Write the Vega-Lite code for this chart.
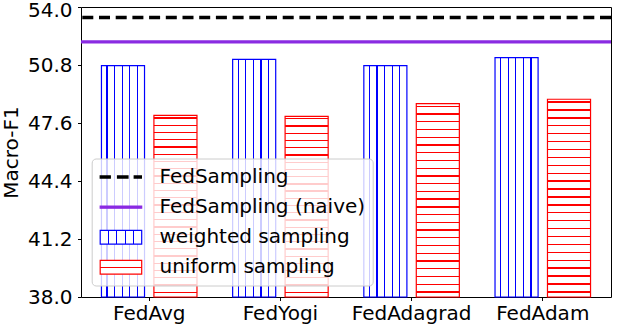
{
  "$schema": "https://vega.github.io/schema/vega-lite/v6.json",
  "width": 530,
  "height": 290,
  "autosize": "none",
  "padding": {"left": 81, "top": 7, "right": 15, "bottom": 31},
  "background": "white",
  "datasets": {
    "bars": [
      {"method": "FedAvg", "series": "weighted sampling", "value": 50.77},
      {"method": "FedAvg", "series": "uniform sampling", "value": 48.02},
      {"method": "FedYogi", "series": "weighted sampling", "value": 51.11},
      {"method": "FedYogi", "series": "uniform sampling", "value": 47.97},
      {"method": "FedAdagrad", "series": "weighted sampling", "value": 50.77},
      {"method": "FedAdagrad", "series": "uniform sampling", "value": 48.67},
      {"method": "FedAdam", "series": "weighted sampling", "value": 51.21},
      {"method": "FedAdam", "series": "uniform sampling", "value": 48.91}
    ],
    "lines": [
      {"series": "FedSampling", "value": 53.42},
      {"series": "FedSampling (naive)", "value": 52.08}
    ]
  },
  "encoding": {
    "y": {
      "field": "value",
      "type": "quantitative",
      "scale": {"domain": [38, 54], "zero": false, "nice": false},
      "axis": {
        "title": "Macro-F1",
        "values": [38, 41.2, 44.4, 47.6, 50.8, 54],
        "format": ".1f",
        "grid": false,
        "labelPadding": 5.5,
        "titlePadding": 6,
        "labelOffset": {"condition": {"test": "datum.value === 54", "value": 3.2}, "value": 0}
      }
    },
    "stroke": {
      "field": "series",
      "type": "nominal",
      "scale": {
        "domain": ["FedSampling", "FedSampling (naive)", "weighted sampling", "uniform sampling"],
        "range": ["#000000", "#8a2be2", "#0000ff", "#ff0000"]
      },
      "legend": {
        "title": null,
        "orient": "none",
        "legendX": 10.7,
        "legendY": 151.5,
        "padding": 7.5,
        "rowPadding": 9.1,
        "fillColor": "rgba(255,255,255,0.8)",
        "strokeColor": "#cccccc",
        "cornerRadius": 4,
        "labelFont": "DejaVu Sans",
        "labelFontSize": 20,
        "labelColor": "#000000",
        "labelLimit": 400,
        "labelOffset": 38.3,
        "symbolSize": 400,
        "symbolStrokeWidth": 1.2,
        "encode": {
          "symbols": {
            "update": {
              "shape": [
                {"test": "datum.value === 'FedSampling'", "value": "M-1,-0.105L0.01,-0.105L0.01,0.105L-1,0.105Z M0.73,-0.105L1.78,-0.105L1.78,0.105L0.73,0.105Z M2.4,-0.105L3.12,-0.105L3.12,0.105L2.4,0.105Z"},
                {"test": "datum.value === 'FedSampling (naive)'", "value": "M-1,-0.105L3.15,-0.105L3.15,0.105L-1,0.105Z"},
                {"value": "M-1,-0.69L3.15,-0.69L3.15,0.69L-1,0.69Z"}
              ],
              "fill": [
                {"test": "datum.value === 'FedSampling'", "value": "#000000"},
                {"test": "datum.value === 'FedSampling (naive)'", "value": "#8a2be2"},
                {"test": "datum.value === 'weighted sampling'", "value": {"gradient": "linear", "x1": 0, "y1": 0, "x2": 1, "y2": 0, "stops": [
                  {"offset": 0, "color": "#ffffff"},
                  {"offset": 0.186, "color": "#ffffff"}, {"offset": 0.186, "color": "#0000ff"}, {"offset": 0.214, "color": "#0000ff"}, {"offset": 0.214, "color": "#ffffff"},
                  {"offset": 0.386, "color": "#ffffff"}, {"offset": 0.386, "color": "#0000ff"}, {"offset": 0.414, "color": "#0000ff"}, {"offset": 0.414, "color": "#ffffff"},
                  {"offset": 0.586, "color": "#ffffff"}, {"offset": 0.586, "color": "#0000ff"}, {"offset": 0.614, "color": "#0000ff"}, {"offset": 0.614, "color": "#ffffff"},
                  {"offset": 0.786, "color": "#ffffff"}, {"offset": 0.786, "color": "#0000ff"}, {"offset": 0.814, "color": "#0000ff"}, {"offset": 0.814, "color": "#ffffff"},
                  {"offset": 1, "color": "#ffffff"}
                ]}},
                {"value": {"gradient": "linear", "x1": 0, "y1": 0, "x2": 0, "y2": 1, "stops": [
                  {"offset": 0, "color": "#ffffff"},
                  {"offset": 0.455, "color": "#ffffff"}, {"offset": 0.455, "color": "#ff0000"}, {"offset": 0.545, "color": "#ff0000"}, {"offset": 0.545, "color": "#ffffff"},
                  {"offset": 1, "color": "#ffffff"}
                ]}}
              ],
              "opacity": {"value": 1}
            }
          }
        }
      }
    }
  },
  "layer": [
    {
      "data": {"name": "bars"},
      "transform": [{"filter": "datum.series === 'weighted sampling'"}],
      "mark": {
        "type": "bar",
        "strokeWidth": 1.2,
        "fill": {"gradient": "linear", "x1": 0, "y1": 0, "x2": 1, "y2": 0, "stops": [
          {"offset": 0, "color": "#ffffff"},
          {"offset": 0.115, "color": "#ffffff"}, {"offset": 0.115, "color": "#0000ff"}, {"offset": 0.141, "color": "#0000ff"}, {"offset": 0.141, "color": "#ffffff"},
          {"offset": 0.292, "color": "#ffffff"}, {"offset": 0.292, "color": "#0000ff"}, {"offset": 0.318, "color": "#0000ff"}, {"offset": 0.318, "color": "#ffffff"},
          {"offset": 0.468, "color": "#ffffff"}, {"offset": 0.468, "color": "#0000ff"}, {"offset": 0.494, "color": "#0000ff"}, {"offset": 0.494, "color": "#ffffff"},
          {"offset": 0.645, "color": "#ffffff"}, {"offset": 0.645, "color": "#0000ff"}, {"offset": 0.671, "color": "#0000ff"}, {"offset": 0.671, "color": "#ffffff"},
          {"offset": 0.822, "color": "#ffffff"}, {"offset": 0.822, "color": "#0000ff"}, {"offset": 0.848, "color": "#0000ff"}, {"offset": 0.848, "color": "#ffffff"},
          {"offset": 1, "color": "#ffffff"}
        ]}
      },
      "encoding": {
        "x": {
          "field": "method",
          "type": "nominal",
          "scale": {"domain": ["FedAvg", "FedYogi", "FedAdagrad", "FedAdam"], "paddingInner": 0, "paddingOuter": 0.02},
          "axis": {"title": null, "labelAngle": 0, "bandPosition": 0.5, "labelPadding": 2.5}
        },
        "xOffset": {
          "field": "series",
          "type": "nominal",
          "scale": {"domain": ["weighted sampling", "uniform sampling"], "paddingInner": 0.179, "paddingOuter": 0.34}
        },
        "y2": {"datum": 38}
      }
    },
    {
      "data": {"name": "bars"},
      "transform": [{"filter": "datum.series === 'uniform sampling'"}],
      "mark": {
        "type": "bar",
        "strokeWidth": 1.2,
        "fill": {"gradient": "linear", "x1": 0, "y1": 0, "x2": 0, "y2": 1, "stops": [
          {"offset": 0, "color": "#ffffff"},
          {"offset": 0.0105, "color": "#ffffff"}, {"offset": 0.0105, "color": "#ff0000"}, {"offset": 0.0175, "color": "#ff0000"}, {"offset": 0.0175, "color": "#ffffff"},
          {"offset": 0.0505, "color": "#ffffff"}, {"offset": 0.0505, "color": "#ff0000"}, {"offset": 0.0575, "color": "#ff0000"}, {"offset": 0.0575, "color": "#ffffff"},
          {"offset": 0.0905, "color": "#ffffff"}, {"offset": 0.0905, "color": "#ff0000"}, {"offset": 0.0975, "color": "#ff0000"}, {"offset": 0.0975, "color": "#ffffff"},
          {"offset": 0.1305, "color": "#ffffff"}, {"offset": 0.1305, "color": "#ff0000"}, {"offset": 0.1375, "color": "#ff0000"}, {"offset": 0.1375, "color": "#ffffff"},
          {"offset": 0.1705, "color": "#ffffff"}, {"offset": 0.1705, "color": "#ff0000"}, {"offset": 0.1775, "color": "#ff0000"}, {"offset": 0.1775, "color": "#ffffff"},
          {"offset": 0.2105, "color": "#ffffff"}, {"offset": 0.2105, "color": "#ff0000"}, {"offset": 0.2175, "color": "#ff0000"}, {"offset": 0.2175, "color": "#ffffff"},
          {"offset": 0.2505, "color": "#ffffff"}, {"offset": 0.2505, "color": "#ff0000"}, {"offset": 0.2575, "color": "#ff0000"}, {"offset": 0.2575, "color": "#ffffff"},
          {"offset": 0.2905, "color": "#ffffff"}, {"offset": 0.2905, "color": "#ff0000"}, {"offset": 0.2975, "color": "#ff0000"}, {"offset": 0.2975, "color": "#ffffff"},
          {"offset": 0.3305, "color": "#ffffff"}, {"offset": 0.3305, "color": "#ff0000"}, {"offset": 0.3375, "color": "#ff0000"}, {"offset": 0.3375, "color": "#ffffff"},
          {"offset": 0.3705, "color": "#ffffff"}, {"offset": 0.3705, "color": "#ff0000"}, {"offset": 0.3775, "color": "#ff0000"}, {"offset": 0.3775, "color": "#ffffff"},
          {"offset": 0.4105, "color": "#ffffff"}, {"offset": 0.4105, "color": "#ff0000"}, {"offset": 0.4175, "color": "#ff0000"}, {"offset": 0.4175, "color": "#ffffff"},
          {"offset": 0.4505, "color": "#ffffff"}, {"offset": 0.4505, "color": "#ff0000"}, {"offset": 0.4575, "color": "#ff0000"}, {"offset": 0.4575, "color": "#ffffff"},
          {"offset": 0.4905, "color": "#ffffff"}, {"offset": 0.4905, "color": "#ff0000"}, {"offset": 0.4975, "color": "#ff0000"}, {"offset": 0.4975, "color": "#ffffff"},
          {"offset": 0.5305, "color": "#ffffff"}, {"offset": 0.5305, "color": "#ff0000"}, {"offset": 0.5375, "color": "#ff0000"}, {"offset": 0.5375, "color": "#ffffff"},
          {"offset": 0.5705, "color": "#ffffff"}, {"offset": 0.5705, "color": "#ff0000"}, {"offset": 0.5775, "color": "#ff0000"}, {"offset": 0.5775, "color": "#ffffff"},
          {"offset": 0.6105, "color": "#ffffff"}, {"offset": 0.6105, "color": "#ff0000"}, {"offset": 0.6175, "color": "#ff0000"}, {"offset": 0.6175, "color": "#ffffff"},
          {"offset": 0.6505, "color": "#ffffff"}, {"offset": 0.6505, "color": "#ff0000"}, {"offset": 0.6575, "color": "#ff0000"}, {"offset": 0.6575, "color": "#ffffff"},
          {"offset": 0.6905, "color": "#ffffff"}, {"offset": 0.6905, "color": "#ff0000"}, {"offset": 0.6975, "color": "#ff0000"}, {"offset": 0.6975, "color": "#ffffff"},
          {"offset": 0.7305, "color": "#ffffff"}, {"offset": 0.7305, "color": "#ff0000"}, {"offset": 0.7375, "color": "#ff0000"}, {"offset": 0.7375, "color": "#ffffff"},
          {"offset": 0.7705, "color": "#ffffff"}, {"offset": 0.7705, "color": "#ff0000"}, {"offset": 0.7775, "color": "#ff0000"}, {"offset": 0.7775, "color": "#ffffff"},
          {"offset": 0.8105, "color": "#ffffff"}, {"offset": 0.8105, "color": "#ff0000"}, {"offset": 0.8175, "color": "#ff0000"}, {"offset": 0.8175, "color": "#ffffff"},
          {"offset": 0.8505, "color": "#ffffff"}, {"offset": 0.8505, "color": "#ff0000"}, {"offset": 0.8575, "color": "#ff0000"}, {"offset": 0.8575, "color": "#ffffff"},
          {"offset": 0.8905, "color": "#ffffff"}, {"offset": 0.8905, "color": "#ff0000"}, {"offset": 0.8975, "color": "#ff0000"}, {"offset": 0.8975, "color": "#ffffff"},
          {"offset": 0.9305, "color": "#ffffff"}, {"offset": 0.9305, "color": "#ff0000"}, {"offset": 0.9375, "color": "#ff0000"}, {"offset": 0.9375, "color": "#ffffff"},
          {"offset": 0.9705, "color": "#ffffff"}, {"offset": 0.9705, "color": "#ff0000"}, {"offset": 0.9775, "color": "#ff0000"}, {"offset": 0.9775, "color": "#ffffff"},
          {"offset": 1, "color": "#ffffff"}
        ]}
      },
      "encoding": {
        "x": {
          "field": "method",
          "type": "nominal",
          "scale": {"domain": ["FedAvg", "FedYogi", "FedAdagrad", "FedAdam"], "paddingInner": 0, "paddingOuter": 0.02},
          "axis": {"title": null, "labelAngle": 0, "bandPosition": 0.5, "labelPadding": 2.5}
        },
        "xOffset": {
          "field": "series",
          "type": "nominal",
          "scale": {"domain": ["weighted sampling", "uniform sampling"], "paddingInner": 0.179, "paddingOuter": 0.34}
        },
        "y2": {"datum": 38}
      }
    },
    {
      "data": {"name": "lines"},
      "transform": [{"filter": "datum.series === 'FedSampling'"}],
      "mark": {"type": "rule", "strokeWidth": 3.3, "strokeDash": [11, 5.7]},
      "encoding": {}
    },
    {
      "data": {"name": "lines"},
      "transform": [{"filter": "datum.series === 'FedSampling (naive)'"}],
      "mark": {"type": "rule", "strokeWidth": 3.3},
      "encoding": {}
    }
  ],
  "config": {
    "view": {"stroke": "#000000", "strokeWidth": 1},
    "axis": {
      "labelFont": "DejaVu Sans",
      "labelFontSize": 20,
      "labelColor": "#000000",
      "titleFont": "DejaVu Sans",
      "titleFontSize": 20,
      "titleFontWeight": "normal",
      "titleColor": "#000000",
      "tickColor": "#000000",
      "tickSize": 3.5,
      "tickWidth": 1,
      "domain": false
    }
  }
}
